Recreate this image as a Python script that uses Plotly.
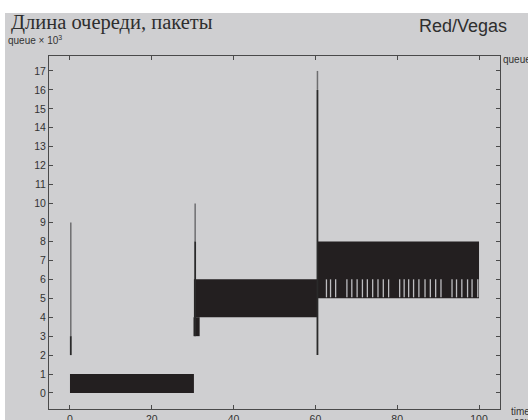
import plotly.graph_objects as go

# ---- data ----
seg_start = [0.0, 30.3, 60.6]
seg_end = [30.3, 60.4, 100.0]
seg_low = [0, 4, 5]
seg_high = [1, 6, 8]

dip_start = 30.2
dip_end = 31.7
dip_low = 3
dip_high = 4

spike_t = [0.2, 30.6, 60.5]
spike_low = [2, 3, 2]
spike_mid = [3, 8, 16]
spike_high = [9, 10, 17]

gap_t = [62.7, 63.7, 64.95, 67.7, 68.9, 70.2, 71.5, 72.7, 74.0, 75.3, 76.6, 77.9,
         80.6, 81.7, 82.8, 84.0, 85.3, 86.8, 88.1, 89.4, 90.7,
         93.4, 94.5, 95.8, 97.2, 98.3, 99.7]
gap_low = 5.05
gap_high = 6.0

x_ticks = [0, 20, 40, 60, 80, 100]
y_ticks = list(range(0, 18))

BG = "#cfcfd1"
BAND = "#231f20"

fig = go.Figure()

# bands
for s, e, lo, hi in zip(seg_start, seg_end, seg_low, seg_high):
    fig.add_trace(go.Scatter(x=[s, e, e, s, s], y=[lo, lo, hi, hi, lo], fill="toself",
                             fillcolor=BAND, mode="lines", line=dict(width=0, color=BAND),
                             hoverinfo="skip", showlegend=False))
fig.add_trace(go.Scatter(x=[dip_start, dip_end, dip_end, dip_start, dip_start],
                         y=[dip_low, dip_low, dip_high, dip_high, dip_low], fill="toself",
                         fillcolor=BAND, mode="lines", line=dict(width=0, color=BAND),
                         hoverinfo="skip", showlegend=False))

# gap lines inside last band
gx, gy = [], []
for t in gap_t:
    gx += [t, t, None]
    gy += [gap_low, gap_high, None]
fig.add_trace(go.Scatter(x=gx, y=gy, mode="lines", line=dict(width=1.3, color="#bdbdc0"),
                         hoverinfo="skip", showlegend=False))

# spikes
lx, ly, dx, dy = [], [], [], []
for t, lo, mi, hi in zip(spike_t, spike_low, spike_mid, spike_high):
    lx += [t, t, None]
    ly += [mi, hi, None]
    dx += [t, t, None]
    dy += [lo, mi, None]
fig.add_trace(go.Scatter(x=lx, y=ly, mode="lines", line=dict(width=1.5, color="#6e6e70"),
                         hoverinfo="skip", showlegend=False))
fig.add_trace(go.Scatter(x=dx, y=dy, mode="lines", line=dict(width=1.8, color="#2a2a2a"),
                         hoverinfo="skip", showlegend=False))

L, R, T, B = 49, 28, 56, 11
W, H = 528, 420
pw, ph = W - L - R, H - T - B

def px(x):
    return (x - L) / pw

def py(y):
    return (H - B - y) / ph

axis_common = dict(showgrid=False, zeroline=False, showline=True, linecolor="#4a4a4a",
                   linewidth=1, mirror="ticks", ticks="inside", ticklen=4,
                   automargin=False,
                   tickcolor="#4a4a4a", tickfont=dict(family="Liberation Sans", size=10.5,
                                                      color="#333333"))

fig.update_layout(
    width=W, height=H,
    margin=dict(l=L, r=R, t=T, b=B, autoexpand=False),
    paper_bgcolor=BG, plot_bgcolor=BG,
    xaxis=dict(range=[-5.13, 105.13], tickvals=x_ticks, **axis_common),
    yaxis=dict(range=[-0.845, 17.79], tickvals=y_ticks, **axis_common),
    shapes=[
        dict(type="rect", xref="paper", yref="paper", x0=px(-10), x1=px(540),
             y0=py(13), y1=py(-10), fillcolor="white", line=dict(width=0), layer="below"),
        dict(type="rect", xref="paper", yref="paper", x0=px(-10), x1=px(5),
             y0=py(430), y1=py(13), fillcolor="white", line=dict(width=0), layer="below"),
    ],
    annotations=[
        dict(text="Длина очереди, пакеты", xref="paper", yref="paper", x=px(9), y=py(22),
             xanchor="left", yanchor="middle", showarrow=False,
             font=dict(family="Liberation Serif", size=20.5, color="#2e2e2e")),
        dict(text="queue × 10<sup>3</sup>", xref="paper", yref="paper", x=px(6), y=py(40),
             xanchor="left", yanchor="middle", showarrow=False,
             font=dict(family="Liberation Sans", size=10, color="#333333")),
        dict(text="Red/Vegas", xref="paper", yref="paper", x=px(417), y=py(26),
             xanchor="left", yanchor="middle", showarrow=False,
             font=dict(family="Liberation Sans", size=18, color="#2e2e2e")),
        dict(text="queue", xref="paper", yref="paper", x=px(501), y=py(60),
             xanchor="left", yanchor="middle", showarrow=False,
             font=dict(family="Liberation Sans", size=10, color="#333333")),
        dict(text="time", xref="paper", yref="paper", x=px(509), y=py(411),
             xanchor="left", yanchor="middle", showarrow=False,
             font=dict(family="Liberation Sans", size=10, color="#333333")),
        dict(text="сек", xref="paper", yref="paper", x=px(512), y=py(421),
             xanchor="left", yanchor="middle", showarrow=False,
             font=dict(family="Liberation Sans", size=10, color="#333333")),
    ],
)

fig.write_html("out.html")
